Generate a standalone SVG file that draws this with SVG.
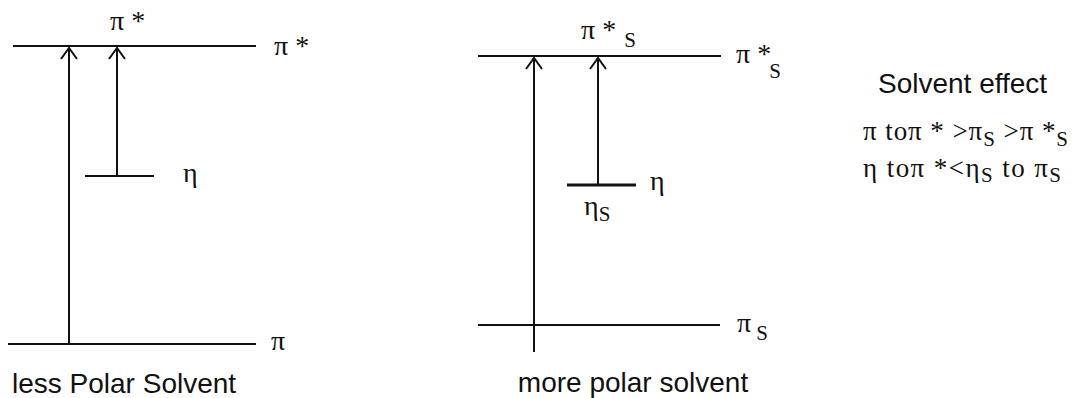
<svg xmlns="http://www.w3.org/2000/svg" width="1072" height="398" viewBox="0 0 1072 398">
<defs>
<marker id="arr" markerWidth="20" markerHeight="20" refX="12" refY="10" orient="auto" markerUnits="userSpaceOnUse" viewBox="0 0 20 20">
<path d="M1,2 L12,10 L1,18" fill="none" stroke="#111" stroke-width="2"/>
</marker>
</defs>
<style>
.lvl{stroke:#111;stroke-width:2;fill:none}
.thick{stroke:#111;stroke-width:3.2;fill:none}
.ar{stroke:#111;stroke-width:2;fill:none}
.g{font-family:"Liberation Serif","Times New Roman",serif;font-size:28px;fill:#111}
.lg{font-family:"Liberation Serif","Times New Roman",serif;font-size:27px;fill:#111}
.sub{font-size:21px}
.s{font-family:"Liberation Sans",Arial,sans-serif;font-size:28px;fill:#111}
</style>
<rect width="1072" height="398" fill="#fff"/>
<g id="less-polar">
<g id="pistar-level"><line class="lvl" x1="13" y1="46" x2="256" y2="46"/><text class="g" x="274" y="55">π *</text><text class="g" x="110" y="30">π *</text></g>
<g id="n-level"><line class="lvl" x1="85" y1="176" x2="154" y2="176"/><text class="g" x="183" y="182">η</text></g>
<g id="pi-level"><line class="lvl" x1="8" y1="344" x2="256" y2="344"/><text class="g" x="271" y="350">π</text></g>
<text class="s" x="12" y="393">less Polar Solvent</text>
</g>
<g id="more-polar">
<g id="pistarS-level"><line class="lvl" x1="478" y1="56" x2="721" y2="56"/>
<text class="g" x="581" y="39">π *<tspan class="sub" dx="8" dy="8">S</tspan></text>
<text class="g" x="736" y="63">π *<tspan class="sub" dx="-2" dy="15">S</tspan></text></g>
<g id="nS-level"><line class="thick" x1="567" y1="185" x2="636" y2="185"/><text class="g" x="650" y="190">η</text><text class="g" x="584" y="215">η<tspan class="sub" dy="6">S</tspan></text></g>
<g id="piS-level"><line class="lvl" x1="478" y1="325" x2="720" y2="325"/><text class="g" x="737" y="332">π<tspan class="sub" dx="5" dy="8">S</tspan></text></g>
<text class="s" x="633" y="392" text-anchor="middle">more polar solvent</text>
</g>
<g id="legend">
<text class="s" x="878" y="93">Solvent effect</text>
<text class="lg" x="863" y="140" textLength="205" lengthAdjust="spacing">π toπ * &gt;π<tspan class="sub" dy="6">S</tspan><tspan dy="-6"> &gt;π *</tspan><tspan class="sub" dy="6">S</tspan></text>
<text class="lg" x="863" y="177" textLength="198" lengthAdjust="spacing">η toπ *&lt;η<tspan class="sub" dy="5">S</tspan><tspan dy="-5">  to π</tspan><tspan class="sub" dy="5">S</tspan></text>
</g>
<g id="connectors">
<line class="ar" x1="69" y1="344" x2="69" y2="48" marker-end="url(#arr)"/>
<line class="ar" x1="117" y1="176" x2="117" y2="48" marker-end="url(#arr)"/>
<line class="ar" x1="534" y1="352" x2="534" y2="58" marker-end="url(#arr)"/>
<line class="ar" x1="598" y1="185" x2="598" y2="58" marker-end="url(#arr)"/>
</g>
</svg>
